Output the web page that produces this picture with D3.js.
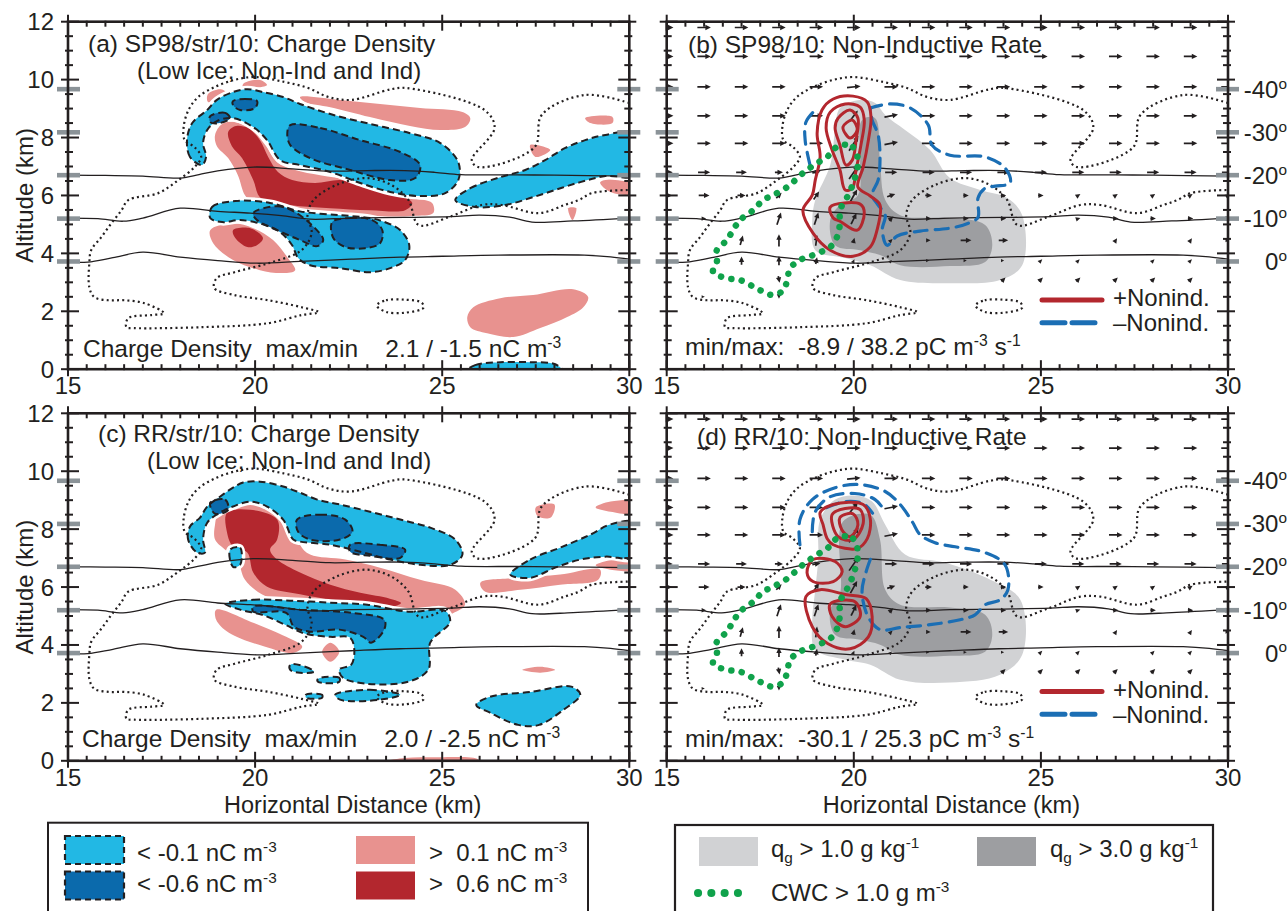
<!DOCTYPE html>
<html>
<head>
<meta charset="utf-8">
<script src="https://cdn.jsdelivr.net/npm/d3@7"></script>
<style>
  body { margin: 0; background: #fff; }
  svg text { font-family: "Liberation Sans", Arial, Helvetica, sans-serif; fill: #231f20; }
</style>
</head>
<body>
<svg id="fig" width="1288" height="911"></svg>
<script>
// ---------------- axes ----------------
const xDomain = [15, 30];
const yDomain = [0, 12];
const xTickLabels = [15, 20, 25, 30];
const yTickLabels = [0, 2, 4, 6, 8, 10, 12];
const tempLevels = [9.67, 8.18, 6.7, 5.2, 3.72];
const tempLabels = ["-40", "-30", "-20", "-10", "0"];

// ---------------- isotherms (km, km) ----------------
const isoMinus20 = [[15,6.70],[16,6.69],[17,6.67],[18,6.60],[18.5,6.72],[19,6.85],[19.95,6.98],[21,6.92],[22,6.84],[23,6.86],[24,6.86],[24.8,6.80],[25.5,6.72],[27,6.71],[28,6.70],[30,6.67]];
const isoMinus10 = [[15,5.22],[15.8,5.20],[16.47,5.11],[17,5.22],[18,5.56],[19,5.45],[19.87,5.39],[20.7,5.30],[21.47,5.18],[22.57,5.22],[24,5.24],[25.25,5.27],[26,5.32],[26.8,5.25],[27.4,5.08],[28.5,5.12],[30,5.22]];
const isoZero = [[15,3.70],[15.53,3.70],[16.2,3.85],[17,4.04],[18,3.87],[19,3.75],[20.05,3.66],[21.2,3.72],[22.57,3.80],[23.88,3.87],[25,3.90],[26.5,3.94],[28.8,3.94],[29.5,3.88],[30,3.80]];

// ---------------- cloud boundary (dotted) ----------------
const cloudEdge = [[30,9.19],[28.81,9.47],[27.66,8.78],[27.47,7.67],[25.97,6.98],[25.79,7.22],[26.40,8.33],[26.13,8.95],[24.04,9.71],[23.64,9.67],[22.57,9.30],[21.96,9.40],[21.42,9.71],[20.78,9.92],[19.98,10.09],[19.45,9.99],[18.91,9.74],[18.48,9.40],[18.22,8.95],[18.09,8.36],[18.12,7.91],[18.38,7.67],[18.56,7.33],[18.38,6.98],[17.95,6.53],[17.41,6.08],[16.61,5.84],[16.43,5.49],[16.16,5.04],[15.89,4.56],[15.62,4.11],[15.57,3.66],[15.57,2.83],[15.70,2.49],[16.08,2.38],[16.51,2.38],[17.04,2.28],[17.57,1.93],[17.23,1.87],[16.61,1.76],[16.56,1.45],[16.77,1.42],[18.56,1.45],[20.36,1.59],[21.24,1.87],[21.70,1.97],[21.24,2.14],[20.36,2.38],[19.45,2.56],[18.91,2.80],[18.97,3.14],[19.45,3.35],[20.36,3.66],[21.24,4.11],[21.51,4.70],[21.40,5.32],[21.56,5.84],[22.17,6.36],[22.98,6.60],[23.64,6.36],[24.10,5.84],[24.37,4.98],[25.17,5.25],[26.05,5.67],[26.59,5.67],[27.58,5.39],[28.27,5.67],[28.65,5.84],[29.00,6.08],[30,6.19]];
const cloudPatch = [[23.25,2.20],[23.5,2.38],[24.0,2.40],[24.45,2.30],[24.5,2.12],[24.0,1.95],[23.5,1.98]];

// ---------------- (a) charge density regions ----------------
const aPink = [
  [[18.74,9.50],[19.06,9.67],[19.22,9.57],[19.01,9.33],[18.74,9.23]],
  [[19.68,9.85],[20.13,9.99],[20.32,9.81],[20.00,9.71],[19.68,9.71]],
  [[21.20,9.40],[22.27,9.30],[23.34,9.16],[24.41,9.02],[25.54,8.88],[25.75,8.67],[25.61,8.36],[24.95,8.26],[24.14,8.40],[23.07,8.71],[22.01,9.05],[21.33,9.23]],
  [[18.93,8.09],[19.12,8.47],[19.47,8.53],[19.92,8.26],[20.27,7.74],[20.59,7.15],[21.07,6.88],[21.74,6.70],[22.54,6.53],[23.34,6.19],[24.14,5.91],[24.73,5.74],[24.76,5.39],[24.20,5.29],[23.07,5.29],[22.01,5.39],[21.20,5.42],[20.53,5.49],[20.00,5.67],[19.73,6.01],[19.54,6.70],[19.28,7.29],[18.98,7.70]],
  [[18.80,4.80],[19.41,5.04],[19.95,4.87],[20.48,4.46],[20.86,3.87],[21.07,3.42],[20.75,3.32],[20.13,3.42],[19.41,3.77],[18.88,4.35]],
  [[28.82,8.67],[29.55,8.71],[29.55,8.50],[28.96,8.50]],
  [[27.35,7.74],[27.89,7.57],[27.49,7.33]],
  [[28.37,5.56],[28.58,5.56],[28.48,5.15]],
  [[29.22,6.46],[30.2,6.53],[30.2,6.08],[29.49,6.12]],
  [[25.67,1.80],[25.83,2.14],[26.55,2.45],[27.43,2.56],[28.50,2.76],[28.90,2.49],[28.77,2.14],[28.34,1.80],[27.62,1.42],[26.90,1.11],[26.20,1.24],[25.75,1.45]]
];
const aRed = [
  [[19.28,8.19],[19.49,8.40],[19.81,8.33],[20.13,7.91],[20.35,7.33],[20.61,6.81],[20.99,6.53],[21.60,6.43],[22.27,6.53],[22.94,6.39],[23.74,6.08],[24.20,5.74],[24.01,5.49],[23.07,5.49],[22.01,5.56],[21.20,5.63],[20.53,5.74],[20.13,5.94],[19.95,6.53],[19.65,7.29],[19.38,7.70]],
  [[19.41,4.80],[19.87,4.87],[20.21,4.53],[20.05,4.28],[19.79,4.22],[19.47,4.53]]
];
const aLtBlue = [
  [[18.58,7.05],[18.26,7.33],[18.18,7.91],[18.32,8.50],[18.72,8.95],[18.98,9.30],[19.41,9.57],[19.79,9.67],[20.21,9.57],[20.75,9.40],[21.20,9.16],[22.01,8.81],[23.07,8.47],[24.14,8.15],[24.95,7.81],[25.43,7.15],[25.43,6.53],[25.08,6.08],[24.41,5.98],[23.61,6.12],[22.81,6.43],[22.01,6.81],[21.20,7.05],[20.67,7.22],[20.32,7.91],[19.95,8.36],[19.41,8.67],[18.98,8.57],[18.72,8.26],[18.61,7.81],[18.69,7.33]],
  [[18.80,5.22],[18.85,5.60],[19.47,5.81],[20.40,5.74],[21.20,5.45],[22.27,5.32],[23.07,5.22],[23.40,5.11],[23.88,4.80],[24.12,4.28],[24.01,3.77],[23.61,3.49],[23.07,3.35],[22.27,3.49],[21.47,3.59],[21.15,3.84],[20.99,4.28],[20.67,4.73],[20.19,5.01],[19.60,5.15],[19.12,5.08]],
  [[25.35,5.84],[25.75,6.25],[26.55,6.63],[27.22,6.88],[27.75,7.22],[28.29,7.64],[28.82,7.91],[29.36,8.09],[30.2,8.15],[30.2,6.70],[29.36,6.67],[28.69,6.46],[28.02,6.19],[27.35,5.91],[26.68,5.67],[25.88,5.60]],
  [[25.61,-0.1],[25.88,0.14],[26.55,0.24],[27.35,0.24],[28.02,0.17],[28.24,-0.1]]
];
const aDkBlue = [
  [[19.41,9.26],[19.73,9.33],[20.05,9.26],[20.00,9.02],[19.60,8.95],[19.41,9.12]],
  [[18.80,8.74],[19.20,8.85],[19.33,8.67],[19.06,8.50],[18.80,8.53]],
  [[20.94,8.43],[21.74,8.33],[22.81,7.91],[23.88,7.50],[24.41,7.05],[24.28,6.60],[23.61,6.53],[22.54,6.88],[21.47,7.29],[20.94,7.74],[20.86,8.15]],
  [[19.95,5.39],[20.59,5.63],[21.07,5.42],[21.60,4.87],[21.82,4.46],[21.66,4.25],[21.20,4.46],[20.59,4.80],[20.05,5.15]],
  [[22.06,5.08],[22.54,5.22],[23.13,5.15],[23.40,4.80],[23.34,4.35],[22.94,4.18],[22.41,4.22],[22.09,4.53]]
];

// ---------------- (c) charge density regions ----------------
const cPink = [
  [[18.93,8.16],[19.06,8.67],[19.73,8.91],[20.67,8.67],[21.07,8.16],[21.20,7.46],[21.47,7.12],[22.41,6.95],[23.34,6.67],[24.41,6.25],[25.35,5.91],[25.61,5.39],[25.22,5.04],[24.68,4.53],[24.20,4.25],[23.61,4.35],[22.81,4.59],[21.74,5.04],[20.94,5.39],[20.19,5.74],[19.73,6.25],[19.52,6.95],[19.20,7.29],[18.93,7.64]],
  [[18.96,5.22],[19.95,4.77],[20.83,4.28],[21.26,3.94],[21.04,3.73],[20.27,3.94],[19.30,4.42],[18.96,4.87]],
  [[22.01,4.08],[22.25,3.77],[22.01,3.42],[21.79,3.77]],
  [[29.1,8.75],[29.5,8.95],[30.2,8.95],[30.2,8.55],[29.5,8.60]],
  [[27.5,8.75],[28.0,8.85],[27.9,8.40],[27.55,8.45]],
  [[29.1,6.75],[29.6,6.95],[30.2,6.95],[30.2,6.60],[29.5,6.60]],
  [[26.02,6.15],[27.09,6.32],[28.15,6.43],[29.22,6.60],[29.17,6.25],[28.15,6.08],[27.09,5.91],[26.15,5.84]],
  [[27.14,3.14],[27.62,3.25],[28.02,3.14],[27.62,3.04]],
  [[23.34,-0.05],[24.0,0.10],[24.68,0.12],[25.96,0.05],[25.96,-0.1]]
];
const cRed = [
  [[19.25,8.57],[19.87,8.67],[20.59,8.33],[20.59,7.64],[20.40,7.29],[20.59,6.95],[21.20,6.50],[22.01,6.08],[22.81,5.80],[23.60,5.60],[23.90,5.45],[23.60,5.30],[22.90,5.35],[22.27,5.50],[21.20,5.75],[20.32,6.01],[19.95,6.50],[19.79,7.19],[19.41,7.39],[19.25,7.88]]
];
const cLtBlue = [
  [[18.45,7.19],[18.21,7.64],[18.26,8.09],[18.53,8.40],[18.72,8.78],[19.06,9.12],[19.41,9.43],[19.68,9.61],[20.13,9.64],[20.75,9.47],[21.20,9.26],[21.66,9.02],[22.27,8.85],[23.07,8.60],[23.88,8.33],[24.68,8.05],[25.35,7.64],[25.54,7.12],[25.22,6.77],[24.41,6.77],[23.61,6.95],[22.81,7.22],[22.01,7.46],[21.20,7.57],[21.02,7.64],[20.75,8.33],[20.32,8.78],[19.87,8.95],[19.41,8.78],[19.06,8.57],[18.72,8.22],[18.61,7.64],[18.66,7.19]],
  [[19.33,7.29],[19.60,7.36],[19.60,6.77],[19.41,6.70]],
  [[26.82,6.43],[27.35,6.95],[28.15,7.36],[28.96,7.81],[29.49,8.16],[30.2,8.22],[30.2,7.05],[29.36,7.05],[28.69,6.95],[28.02,6.67],[27.35,6.32]],
  [[19.20,5.42],[19.95,5.56],[20.94,5.53],[22.01,5.46],[23.00,5.39],[24.09,5.15],[25.08,5.18],[25.21,4.80],[24.68,4.08],[24.63,3.15],[24.09,2.73],[22.99,2.66],[22.35,2.87],[22.25,3.15],[22.57,3.32],[22.65,3.84],[22.54,4.25],[22.01,4.28],[21.34,4.39],[20.80,4.70],[20.19,5.04],[19.60,5.22]],
  [[20.94,3.32],[21.34,3.25],[21.58,3.08],[21.20,3.04],[20.94,3.14]],
  [[21.68,2.83],[22.25,2.87],[22.25,2.73],[21.68,2.73]],
  [[21.36,2.28],[21.79,2.28],[21.79,2.18],[21.36,2.18]],
  [[22.14,2.28],[23.07,2.45],[23.88,2.28],[23.34,2.11],[22.27,2.11]],
  [[25.91,1.93],[26.28,2.21],[27.38,2.38],[28.45,2.56],[28.69,2.28],[28.24,1.76],[27.59,1.24],[27.03,1.24],[26.28,1.66]]
];
const cDkBlue = [
  [[21.12,8.33],[21.74,8.50],[22.41,8.33],[22.60,7.91],[22.27,7.64],[21.47,7.64],[21.15,7.91]],
  [[22.54,7.46],[23.34,7.46],[24.01,7.29],[23.88,7.01],[23.07,7.08],[22.54,7.22]],
  [[18.80,8.91],[19.20,9.02],[19.28,8.67],[18.93,8.53]],
  [[19.95,5.32],[21.20,5.22],[22.57,5.11],[23.45,4.87],[23.45,4.53],[23.10,4.08],[22.89,4.28],[22.25,4.53],[21.47,4.46],[21.04,4.63],[20.83,5.11],[19.95,5.15]]
];

// ---------------- (b) non-inductive rate ----------------
const bGraupel1 = [[19.63,9.02],[20.17,9.30],[20.57,9.19],[20.84,8.78],[21.37,8.26],[22.04,7.57],[22.57,6.60],[23.38,6.19],[24.10,5.91],[24.50,5.32],[24.50,3.59],[23.91,3.08],[22.57,2.97],[21.24,3.08],[20.44,3.59],[19.77,3.84],[18.97,4.11],[18.89,5.15],[18.97,5.84],[19.37,7.05],[19.50,8.26]];
const bGraupel3 = [[20.22,8.60],[20.57,8.67],[20.70,7.22],[20.84,5.84],[21.24,5.32],[22.57,5.22],[23.51,4.98],[23.70,4.28],[23.51,3.70],[22.57,3.56],[21.24,3.59],[20.70,3.94],[20.17,4.11],[19.50,4.28],[19.37,5.15],[19.63,5.67],[20.11,6.01],[20.17,7.22]];
const bPosRate = [
  [[19.15,8.95],[19.45,9.33],[19.98,9.43],[20.36,9.23],[20.46,8.71],[20.39,7.91],[20.25,6.98],[20.11,6.29],[20.44,5.98],[20.70,5.67],[20.62,4.80],[20.44,4.22],[19.98,3.90],[19.37,4.11],[18.91,4.70],[18.64,5.49],[18.89,6.01],[18.97,6.53],[19.10,7.33],[19.02,8.15]],
  [[19.37,8.88],[19.77,9.16],[20.17,9.05],[20.28,8.60],[20.19,7.74],[20.06,6.88],[19.96,6.25],[19.77,6.19],[19.63,6.88],[19.42,7.57],[19.26,8.33]],
  [[19.58,8.67],[19.90,8.95],[20.11,8.67],[20.06,7.91],[19.96,7.22],[19.79,7.05],[19.63,7.74],[19.50,8.33]],
  [[19.71,8.36],[19.96,8.60],[20.09,8.26],[19.90,7.98]],
  [[19.37,5.60],[20.17,5.70],[20.28,5.39],[20.09,4.80],[19.63,5.11],[19.45,5.22]]
];
const bNegRate = [
  [[20.44,9.02],[20.97,9.16],[21.51,9.02],[21.99,8.43],[22.09,7.74],[22.57,7.39],[23.51,7.33],[24.04,6.95],[24.18,6.43],[23.78,6.32],[23.51,6.25],[23.32,5.91],[23.32,5.25],[23.06,5.04],[22.57,4.87],[21.77,4.77],[21.16,4.60],[20.89,4.28],[20.76,4.80],[20.84,5.32],[20.65,5.67],[20.49,6.01],[20.65,6.53],[20.70,7.22],[20.65,8.09],[20.49,8.60],[20.44,9.02]],
  [[18.83,7.05],[18.70,7.91],[18.72,8.53],[18.97,8.95]]
];

// ---------------- (d) non-inductive rate ----------------
const dGraupel1 = [[19.10,8.33],[19.50,9.02],[20.03,9.16],[20.49,8.95],[20.84,8.15],[21.37,7.12],[22.45,6.84],[23.65,6.25],[24.45,5.56],[24.50,3.66],[23.91,2.97],[22.57,2.70],[21.24,2.80],[20.44,3.32],[19.77,3.49],[18.97,3.84],[18.89,4.87],[18.97,5.91],[19.05,6.95]];
const dGraupel3 = [[19.71,8.26],[20.44,8.50],[20.70,7.64],[20.84,5.91],[21.24,5.39],[22.57,5.29],[23.51,5.04],[23.70,4.35],[23.51,3.77],[22.57,3.63],[21.24,3.66],[20.70,4.01],[20.17,4.18],[19.50,4.35],[19.37,5.22],[19.63,5.74]];
const dPosRate = [
  [[19.10,8.57],[19.45,8.85],[20.25,8.85],[20.44,8.36],[20.36,7.67],[20.09,7.33],[19.45,7.46],[19.29,7.67],[19.18,8.15]],
  [[19.42,8.50],[19.77,8.71],[20.17,8.67],[20.25,8.19],[19.98,7.64],[19.58,7.74]],
  [[19.63,8.40],[19.98,8.53],[20.11,8.15],[19.90,7.74],[19.68,7.98]],
  [[18.91,6.95],[18.75,6.50],[18.91,6.19],[19.45,6.19],[19.69,6.53],[19.50,6.88]],
  [[18.72,5.67],[19.10,5.91],[19.77,5.74],[20.33,5.60],[20.49,4.98],[20.39,4.28],[19.90,3.87],[19.31,4.04],[18.89,4.63]],
  [[19.37,5.42],[20.03,5.49],[20.17,4.98],[19.77,4.63],[19.42,4.98]]
];
const dNegRate = [
  [[18.56,7.46],[18.56,8.33],[18.89,9.02],[19.50,9.43],[20.17,9.54],[20.84,9.30],[21.24,8.85],[21.56,8.26],[21.77,7.81],[22.17,7.53],[22.71,7.39],[23.51,7.19],[24.04,6.77],[24.12,5.91],[23.91,5.56],[23.51,5.39],[23.24,5.04],[22.84,4.87],[22.04,4.70],[21.24,4.60],[20.70,4.53],[20.38,4.98],[20.22,5.84],[20.33,6.53],[20.49,7.12]],
  [[18.89,7.91],[18.97,8.60],[19.37,9.12],[20.03,9.23],[20.57,9.02],[20.84,8.60]],
  [[19.26,8.74],[19.77,8.95],[20.25,8.88],[20.50,8.55]]
];

// cloud water content > 1 g m-3
const cwcEdge = [[19.63,7.74],[19.98,7.67],[20.11,7.22],[20.03,6.60],[19.85,6.01],[19.63,5.49],[19.63,5.04],[19.55,4.56],[19.37,4.22],[18.91,3.94],[18.56,3.77],[18.30,3.49],[18.22,3.08],[18.12,2.73],[17.84,2.56],[17.49,2.73],[16.96,3.08],[16.61,3.14],[16.24,3.35],[16.34,3.70],[16.34,4.11],[16.61,4.46],[16.77,4.80],[16.96,5.15],[17.31,5.49],[17.58,5.84],[17.84,6.01],[18.22,6.29],[18.64,6.77],[19.02,7.12],[19.29,7.33],[19.45,7.57]];

// ---------------- storm-relative wind ----------------
const windX = [15,16,17,18,19,20,21,22,23,24,25,26,27,28,29,30];
const windAlt = [11.8,10.8,9.75,8.75,7.8,6.8,6.0,5.2,4.45,3.75,3.1,2.5];
const windU = [
  [10,10,10,10,10,10,10,10,10,10,10,10,10,10,10,10],
  [10,10,10,10,10,10,10,10,10,10,10,10,10,10,10,10],
  [10,10,10,10,10,10,10,10,10,10,10,10,10,10,10,10],
  [10,10,10,10,10, 6,10,10,10,10,10,10,10,10,10,10],
  [10,10,10,10,10, 7,10,10,10,10,10,10,10,10,10,10],
  [ 9, 9, 8, 6, 6, 7, 9, 9, 9, 9, 9, 9, 9, 9, 9, 9],
  [ 8, 8, 6, 4, 4, 5, 6, 5, 4, 4, 4, 3, 3, 3, 3, 3],
  [ 0, 3, 0, 3, 3, 4, 3, 4, 4, 4, 0, 3, 4, 4, 4, 4],
  [ 0, 0, 2, 0, 1, 1, 2, 3, 8, 7, 0, 0, 2, 0, 2, 2],
  [ 0, 0, 0, 0, 1, 1, 1, 1, 1, 1, 2, 2, 0, 2, 2, 2],
  [ 0, 0, 0, 1, 0, 0, 0, 0, 0, 3, 3, 3, 3, 3, 3, 0],
  [ 0, 1, 0, 0, 0, 0, 0, 0, 0, 0, 0, 0, 0, 0, 0, 0]
];
const windW = [
  [0,0,0,0,0, 0,0,0,0,0,0,0,0,0,0,0],
  [0,0,0,0,0, 0,0,0,0,0,0,0,0,0,0,0],
  [0,0,0,0,0, 1,0,0,0,0,0,0,0,0,0,0],
  [0,0,0,0,0, 8,2,0,0,0,0,0,0,0,0,0],
  [0,0,0,0,0,11,2,0,0,0,0,0,0,0,0,0],
  [0,0,0,0,1,10,0,0,0,0,0,0,0,0,0,0],
  [0,0,0,4,6, 9,2,0,0,0,0,2,2,2,2,2],
  [0,0,0,9,9, 8,3,0,0,0,0,1,0,0,0,0],
  [0,0,7,9,8, 4,2,0,0,0,0,0,3,0,3,0],
  [0,0,6,7,5, 2,1,0,0,0,2,2,0,2,2,1],
  [0,0,0,-5,0,0,0,0,0,3,3,3,3,3,3,0],
  [0,0,0,-3,0,0,0,0,0,0,0,0,0,0,0,0]
];

// ---------------- colours ----------------
const C = {
  text: "#231f20", ltBlue: "#22b8e4", dkBlue: "#0b6aac", pink: "#e8928f", dkRed: "#b3272e",
  grey1: "#d1d2d4", grey3: "#9d9ea1", redLine: "#b3272e", blueLine: "#1b6eb4",
  green: "#10a24b", bar: "#8b9398"
};

const svg = d3.select("#fig");
const PW = 561.3, PH = 347.5;
const FS = 24.5;

function richText(sel, x, y, parts, opts = {}) {
  const size = opts.size || FS;
  const t = sel.append("text").attr("x", x).attr("y", y)
    .attr("font-size", size).style("white-space", "pre");
  if (opts.anchor) t.attr("text-anchor", opts.anchor);
  let shift = 0;
  parts.forEach(p => {
    const [s, kind] = typeof p === "string" ? [p, "n"] : p;
    const target = kind === "sup" ? -size * 0.38 : kind === "sub" ? size * 0.25 : 0;
    const ts = t.append("tspan").text(s).attr("dy", target - shift);
    if (kind !== "n") ts.attr("font-size", size * 0.64);
    shift = target;
  });
  return t;
}

const layout = [
  { key: "a", left: 68, top: 21.7, kind: "charge" },
  { key: "b", left: 666.7, top: 21.7, kind: "rate" },
  { key: "c", left: 68, top: 413.3, kind: "charge" },
  { key: "d", left: 666.7, top: 413.3, kind: "rate" }
];

const chargeSets = {
  a: { pink: aPink, red: aRed, lt: aLtBlue, dk: aDkBlue },
  c: { pink: cPink, red: cRed, lt: cLtBlue, dk: cDkBlue }
};
const rateSets = {
  b: { g1: bGraupel1, g3: bGraupel3, pos: bPosRate, neg: bNegRate, negClosed: [true, false] },
  d: { g1: dGraupel1, g3: dGraupel3, pos: dPosRate, neg: dNegRate, negClosed: [false, false, false] }
};

layout.forEach(P => {
  const x = d3.scaleLinear().domain(xDomain).range([0, PW]);
  const y = d3.scaleLinear().domain(yDomain).range([PH, 0]);
  const g = svg.append("g").attr("transform", `translate(${P.left},${P.top})`);
  const clipId = "clip-" + P.key;
  g.append("clipPath").attr("id", clipId).append("rect").attr("width", PW).attr("height", PH);
  const body = g.append("g").attr("clip-path", `url(#${clipId})`);

  const closed = d3.line().x(d => x(d[0])).y(d => y(d[1])).curve(d3.curveCatmullRomClosed.alpha(0.5));
  const open = d3.line().x(d => x(d[0])).y(d => y(d[1])).curve(d3.curveCatmullRom.alpha(0.5));

  if (P.kind === "charge") {
    const S = chargeSets[P.key];
    body.selectAll(null).data(S.pink).join("path").attr("d", closed).attr("fill", C.pink);
    body.selectAll(null).data(S.red).join("path").attr("d", closed).attr("fill", C.dkRed);
    body.selectAll(null).data(S.lt).join("path").attr("d", closed)
      .attr("fill", "none").attr("stroke", "#fff").attr("stroke-width", 7);
    body.selectAll(null).data(S.lt).join("path").attr("d", closed).attr("fill", C.ltBlue);
    body.selectAll(null).data(S.dk).join("path").attr("d", closed).attr("fill", C.dkBlue);
    body.selectAll(null).data(S.lt.concat(S.dk)).join("path").attr("d", closed)
      .attr("fill", "none").attr("stroke", C.text).attr("stroke-width", 2)
      .attr("stroke-dasharray", "7,4");
  } else {
    const S = rateSets[P.key];
    body.append("path").datum(S.g1).attr("d", closed).attr("fill", C.grey1);
    body.append("path").datum(S.g3).attr("d", closed).attr("fill", C.grey3);
  }

  // cloud boundary
  body.append("path").datum(cloudEdge).attr("d", open).attr("fill", "none")
    .attr("stroke", C.text).attr("stroke-width", 2.2).attr("stroke-dasharray", "2,3.2");
  body.append("path").datum(cloudPatch).attr("d", closed).attr("fill", "none")
    .attr("stroke", C.text).attr("stroke-width", 2.2).attr("stroke-dasharray", "2,3.2");

  // isotherms
  [isoMinus20, isoMinus10, isoZero].forEach(iso => {
    body.append("path").datum(iso).attr("d", open).attr("fill", "none")
      .attr("stroke", C.text).attr("stroke-width", 1.3);
  });

  if (P.kind === "rate") {
    const S = rateSets[P.key];
    // wind vectors
    const k = 1.35;
    const arrows = body.append("g");
    windAlt.forEach((alt, i) => {
      windX.forEach((xv, j) => {
        const u = windU[i][j], w = windW[i][j];
        if (u === 0 && w === 0) return;
        const dx = u * k, dy = -w * k;
        const cx = x(xv), cy = y(alt);
        const x0 = cx - dx / 2, y0 = cy - dy / 2, x1 = cx + dx / 2, y1 = cy + dy / 2;
        const len = Math.hypot(dx, dy), ux = dx / len, uy = dy / len;
        const hl = Math.min(5.5, 2.5 + len * 0.5), hw = hl * 0.48;
        if (len > hl) {
          arrows.append("line").attr("x1", x0).attr("y1", y0)
            .attr("x2", x1 - ux * hl * 0.6).attr("y2", y1 - uy * hl * 0.6)
            .attr("stroke", C.text).attr("stroke-width", 1.7);
        }
        const bx = x1 - ux * hl, by = y1 - uy * hl;
        arrows.append("path")
          .attr("d", `M${x1},${y1}L${bx - uy * hw},${by + ux * hw}L${bx + uy * hw},${by - ux * hw}Z`)
          .attr("fill", C.text);
      });
    });
    // negative rate (dashed blue)
    S.neg.forEach((ring, i) => {
      body.append("path").datum(ring).attr("d", S.negClosed[i] ? closed : open)
        .attr("fill", "none").attr("stroke", C.blueLine).attr("stroke-width", 3.2)
        .attr("stroke-dasharray", "13,8").attr("stroke-linecap", "round");
    });
    // positive rate (solid red)
    body.selectAll(null).data(S.pos).join("path").attr("d", closed)
      .attr("fill", "none").attr("stroke", C.redLine).attr("stroke-width", 3);
    // cloud water
    body.append("path").datum(cwcEdge).attr("d", closed).attr("fill", "none")
      .attr("stroke", C.green).attr("stroke-width", 6.5).attr("stroke-linecap", "round")
      .attr("stroke-dasharray", "0.1,10.5");

    // in-panel legend
    g.append("line").attr("x1", 375.3).attr("x2", 435.3).attr("y1", 278.3).attr("y2", 278.3)
      .attr("stroke", C.redLine).attr("stroke-width", 5).attr("stroke-linecap", "round");
    richText(g, 446.3, 284.5, ["+Nonind."], { size: 24 });
    g.append("line").attr("x1", 375.3).attr("x2", 428.3).attr("y1", 301).attr("y2", 301)
      .attr("stroke", C.blueLine).attr("stroke-width", 5).attr("stroke-linecap", "round")
      .attr("stroke-dasharray", "23,7");
    richText(g, 446.3, 309.5, ["\u2013Nonind."], { size: 24 });
  }

  // temperature markers
  tempLevels.forEach(t => {
    g.append("rect").attr("x", -11).attr("y", y(t) - 2.3).attr("width", 23).attr("height", 4.6).attr("fill", C.bar);
    g.append("rect").attr("x", PW - 12).attr("y", y(t) - 2.3).attr("width", 23).attr("height", 4.6).attr("fill", C.bar);
  });

  // ticks
  const ticks = g.append("g").attr("stroke", C.text).attr("stroke-width", 2);
  for (let v = xDomain[0]; v <= xDomain[1] + 1e-6; v += 0.5) {
    const major = Math.abs(v % 5) < 1e-6;
    const X = x(v);
    ticks.append("line").attr("x1", X).attr("x2", X).attr("y1", PH - (major ? 9 : 5)).attr("y2", PH + (major ? 7 : 1));
    ticks.append("line").attr("x1", X).attr("x2", X).attr("y1", major ? -7 : -1).attr("y2", major ? 9 : 5);
  }
  for (let v = yDomain[0]; v <= yDomain[1] + 1e-6; v += 0.5) {
    const major = Math.abs(v % 2) < 1e-6;
    const Y = y(v);
    ticks.append("line").attr("y1", Y).attr("y2", Y).attr("x1", major ? -7 : -3).attr("x2", major ? 11 : 5);
    ticks.append("line").attr("y1", Y).attr("y2", Y).attr("x1", PW - (major ? 11 : 5)).attr("x2", PW + (major ? 7 : 3));
  }
  g.append("rect").attr("width", PW).attr("height", PH).attr("fill", "none")
    .attr("stroke", C.text).attr("stroke-width", 2.6);

  // tick labels
  g.selectAll(null).data(xTickLabels).join("text")
    .attr("x", d => x(d)).attr("y", PH + 25).attr("text-anchor", "middle").attr("font-size", 24)
    .text(d => d);
  if (P.kind === "charge") {
    g.selectAll(null).data(yTickLabels).join("text")
      .attr("x", -14).attr("y", d => y(d) + 8.5).attr("text-anchor", "end").attr("font-size", 24)
      .text(d => d);
    g.append("text").attr("transform", `translate(-35,${PH / 2}) rotate(-90)`)
      .attr("text-anchor", "middle").attr("font-size", 24).text("Altitude (km)");
  } else {
    tempLevels.forEach((t, i) => {
      richText(g, PW + 59, y(t) + 8.5, [tempLabels[i], ["o", "sup"]], { anchor: "end", size: 24 });
    });
  }
  if (P.key === "c" || P.key === "d") {
    g.append("text").attr("x", PW / 2 + 4).attr("y", PH + 52).attr("text-anchor", "middle")
      .attr("font-size", 23.5).text("Horizontal Distance (km)");
  }
});

// ---------------- panel captions ----------------
richText(svg, 88, 52, ["(a) SP98/str/10: Charge Density"]);
richText(svg, 137, 79, ["(Low Ice; Non-Ind and Ind)"], { size: 24 });
richText(svg, 83, 357, ["Charge Density  max/min    2.1 / -1.5 nC m", ["-3", "sup"]]);

richText(svg, 688, 53, ["(b) SP98/10: Non-Inductive Rate"]);
richText(svg, 685, 355, ["min/max:  -8.9 / 38.2 pC m", ["-3", "sup"], " s", ["-1", "sup"]]);

richText(svg, 98, 442, ["(c) RR/str/10: Charge Density"]);
richText(svg, 147, 469, ["(Low Ice; Non-Ind and Ind)"], { size: 24 });
richText(svg, 82, 747, ["Charge Density  max/min    2.0 / -2.5 nC m", ["-3", "sup"]]);

richText(svg, 697, 445, ["(d) RR/10: Non-Inductive Rate"]);
richText(svg, 685, 747, ["min/max:  -30.1 / 25.3 pC m", ["-3", "sup"], " s", ["-1", "sup"]]);

// ---------------- legends ----------------
const legL = svg.append("g");
legL.append("rect").attr("x", 48).attr("y", 822.7).attr("width", 540).attr("height", 110)
  .attr("fill", "none").attr("stroke", C.text).attr("stroke-width", 2);
const chargeKeys = [
  { x: 65, y: 836, fill: C.ltBlue, dashed: true, label: ["< -0.1 nC m", ["-3", "sup"]], tx: 137, ty: 861 },
  { x: 65, y: 871.5, fill: C.dkBlue, dashed: true, label: ["< -0.6 nC m", ["-3", "sup"]], tx: 137, ty: 892 },
  { x: 356, y: 836, fill: C.pink, dashed: false, label: [">  0.1 nC m", ["-3", "sup"]], tx: 429, ty: 861 },
  { x: 356, y: 871.5, fill: C.dkRed, dashed: false, label: [">  0.6 nC m", ["-3", "sup"]], tx: 429, ty: 892 }
];
chargeKeys.forEach(kd => {
  const r = legL.append("rect").attr("x", kd.x).attr("y", kd.y).attr("width", 59).attr("height", 28).attr("fill", kd.fill);
  if (kd.dashed) r.attr("stroke", C.text).attr("stroke-width", 2.2).attr("stroke-dasharray", "6,4");
  richText(legL, kd.tx, kd.ty, kd.label, { size: 24 });
});

const legR = svg.append("g");
legR.append("rect").attr("x", 675).attr("y", 825).attr("width", 538).attr("height", 110)
  .attr("fill", "none").attr("stroke", C.text).attr("stroke-width", 2.2);
legR.append("rect").attr("x", 699).attr("y", 837).attr("width", 59).attr("height", 29).attr("fill", C.grey1);
richText(legR, 771, 857, ["q", ["g", "sub"], " > 1.0 g kg", ["-1", "sup"]], { size: 24 });
legR.append("rect").attr("x", 977).attr("y", 837).attr("width", 59).attr("height", 29).attr("fill", C.grey3);
richText(legR, 1050, 857, ["q", ["g", "sub"], " > 3.0 g kg", ["-1", "sup"]], { size: 24 });
legR.append("line").attr("x1", 698).attr("x2", 751).attr("y1", 893).attr("y2", 893)
  .attr("stroke", C.green).attr("stroke-width", 8).attr("stroke-linecap", "round")
  .attr("stroke-dasharray", "0.1,13.2");
richText(legR, 771, 901, ["CWC > 1.0 g m", ["-3", "sup"]], { size: 24 });
</script>
</body>
</html>
